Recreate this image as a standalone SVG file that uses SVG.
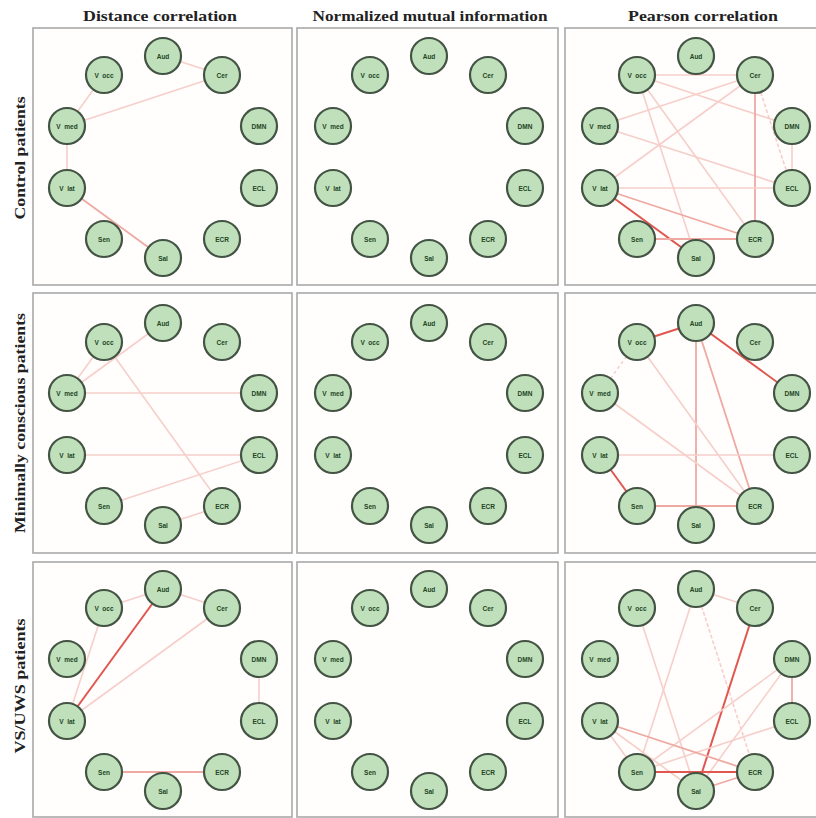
<svg xmlns="http://www.w3.org/2000/svg" width="816" height="818" viewBox="0 0 816 818">
<style>
.bg{fill:#ffffff}
.panel{fill:#fffefd;stroke:#a9a9a9;stroke-width:1.6}
.title{font-family:"Liberation Serif",serif;font-weight:bold;font-size:15px;fill:#222;text-anchor:middle}
.node circle{fill:#bfe0bb;stroke:#445444;stroke-width:2.2}
.node text{font-family:"Liberation Sans",Arial,sans-serif;font-weight:bold;font-size:6.5px;fill:#234423;text-anchor:middle;dominant-baseline:central}
.e1{stroke:#f6cfca;stroke-width:1.6;fill:none}
.e2{stroke:#eea9a2;stroke-width:1.8;fill:none}
.e3{stroke:#e0574f;stroke-width:2;fill:none}
.dash{stroke-dasharray:4 2}
</style>
<rect class="bg" x="0" y="0" width="816" height="818"/>

<text class="title" x="160" y="21" textLength="154" lengthAdjust="spacingAndGlyphs">Distance correlation</text>
<text class="title" x="430" y="21" textLength="235" lengthAdjust="spacingAndGlyphs">Normalized mutual information</text>
<text class="title" x="703" y="21" textLength="150" lengthAdjust="spacingAndGlyphs">Pearson correlation</text>
<text class="title" transform="translate(25,158) rotate(-90)" x="0" y="0" textLength="123" lengthAdjust="spacingAndGlyphs">Control patients</text>
<text class="title" transform="translate(25,423) rotate(-90)" x="0" y="0" textLength="220" lengthAdjust="spacingAndGlyphs">Minimally conscious patients</text>
<text class="title" transform="translate(25,686) rotate(-90)" x="0" y="0" textLength="135" lengthAdjust="spacingAndGlyphs">VS/UWS patients</text>

<g id="panels">
<rect class="panel" x="33" y="28" width="259" height="257"/>
<rect class="panel" x="297" y="28" width="261" height="257"/>
<rect class="panel" x="565" y="28" width="262" height="257"/>
<rect class="panel" x="33" y="293" width="259" height="260"/>
<rect class="panel" x="297" y="293" width="261" height="260"/>
<rect class="panel" x="565" y="293" width="262" height="260"/>
<rect class="panel" x="33" y="562" width="259" height="255"/>
<rect class="panel" x="297" y="562" width="261" height="255"/>
<rect class="panel" x="565" y="562" width="262" height="255"/>
</g>

<g id="connectors">
<g id="c-dist-control" transform="translate(163,157)">
<line class="e1" x1="0" y1="-101" x2="59" y2="-82"/>
<line class="e1" x1="-96" y1="-31" x2="59" y2="-82"/>
<line class="e1" x1="-59" y1="-82" x2="-96" y2="-31"/>
<line class="e1" x1="-96" y1="-31" x2="-96" y2="31"/>
<line class="e2" x1="-96" y1="31" x2="0" y2="101"/>
</g>
<g id="c-pear-control" transform="translate(696,157)">
<line class="e1" x1="-59" y1="-82" x2="59" y2="-82"/>
<line class="e1" x1="-96" y1="-31" x2="59" y2="-82"/>
<line class="e1" x1="-96" y1="31" x2="59" y2="-82"/>
<line class="e1" x1="-59" y1="-82" x2="96" y2="-31"/>
<line class="e1" x1="-59" y1="-82" x2="0" y2="101"/>
<line class="e1" x1="-59" y1="-82" x2="59" y2="82"/>
<line class="e1" x1="-96" y1="-31" x2="96" y2="31"/>
<line class="e2" x1="59" y1="-82" x2="59" y2="82"/>
<line class="e1 dash" x1="59" y1="-82" x2="96" y2="31"/>
<line class="e1" x1="96" y1="-31" x2="96" y2="31"/>
<line class="e1" x1="-96" y1="31" x2="96" y2="31"/>
<line class="e2" x1="-96" y1="31" x2="59" y2="82"/>
<line class="e3" x1="-96" y1="31" x2="0" y2="101"/>
<line class="e2" x1="-59" y1="82" x2="59" y2="82"/>
</g>
<g id="c-dist-mcs" transform="translate(163,424)">
<line class="e1" x1="-96" y1="-31" x2="0" y2="-101"/>
<line class="e1" x1="-96" y1="-31" x2="-59" y2="-82"/>
<line class="e1" x1="-96" y1="-31" x2="96" y2="-31"/>
<line class="e1" x1="-96" y1="31" x2="96" y2="31"/>
<line class="e1" x1="-59" y1="-82" x2="59" y2="82"/>
<line class="e1" x1="-59" y1="82" x2="96" y2="31"/>
<line class="e1" x1="0" y1="101" x2="59" y2="82"/>
</g>
<g id="c-pear-mcs" transform="translate(696,424)">
<line class="e3" x1="-59" y1="-82" x2="0" y2="-101"/>
<line class="e1" x1="-96" y1="-31" x2="-59" y2="-82" stroke-dasharray="3 3"/>
<line class="e3" x1="0" y1="-101" x2="96" y2="-31"/>
<line class="e2" x1="0" y1="-101" x2="59" y2="82"/>
<line class="e2" x1="0" y1="-101" x2="0" y2="101"/>
<line class="e1" x1="-59" y1="-82" x2="59" y2="82"/>
<line class="e1" x1="-96" y1="-31" x2="59" y2="82"/>
<line class="e1" x1="-96" y1="31" x2="96" y2="31"/>
<line class="e3" x1="-96" y1="31" x2="-59" y2="82"/>
<line class="e2" x1="-59" y1="82" x2="59" y2="82"/>
</g>
<g id="c-dist-vs" transform="translate(163,690)">
<line class="e1" x1="-59" y1="-82" x2="0" y2="-101"/>
<line class="e1" x1="0" y1="-101" x2="59" y2="-82"/>
<line class="e3" x1="-96" y1="31" x2="0" y2="-101"/>
<line class="e1" x1="-96" y1="31" x2="-59" y2="-82"/>
<line class="e1" x1="-96" y1="31" x2="59" y2="-82"/>
<line class="e1" x1="96" y1="-31" x2="96" y2="31"/>
<line class="e2" x1="-59" y1="82" x2="59" y2="82"/>
</g>
<g id="c-pear-vs" transform="translate(696,690)">
<line class="e1" x1="0" y1="-101" x2="59" y2="-82"/>
<line class="e1" x1="0" y1="-101" x2="-59" y2="82"/>
<line class="e1 dash" x1="0" y1="-101" x2="59" y2="82"/>
<line class="e3" x1="59" y1="-82" x2="0" y2="101"/>
<line class="e1" x1="-59" y1="-82" x2="0" y2="101"/>
<line class="e2" x1="96" y1="-31" x2="96" y2="31"/>
<line class="e1" x1="96" y1="-31" x2="-59" y2="82"/>
<line class="e1" x1="96" y1="-31" x2="0" y2="101"/>
<line class="e1" x1="96" y1="31" x2="-59" y2="82"/>
<line class="e2" x1="-96" y1="31" x2="59" y2="82"/>
<line class="e1" x1="-96" y1="31" x2="0" y2="101"/>
<line class="e1" x1="-96" y1="31" x2="-59" y2="82"/>
<line class="e3" x1="-59" y1="82" x2="59" y2="82"/>
<line class="e2" x1="0" y1="101" x2="59" y2="82"/>
</g>
</g>

<g id="panel-dist-control" transform="translate(163,157)">
<g id="dc1-Aud" class="node"><circle cx="0" cy="-101" r="18"/><text x="0" y="-101">Aud</text></g>
<g id="dc1-Cer" class="node"><circle cx="59" cy="-82" r="18"/><text x="59" y="-82">Cer</text></g>
<g id="dc1-DMN" class="node"><circle cx="96" cy="-31" r="18"/><text x="96" y="-31">DMN</text></g>
<g id="dc1-ECL" class="node"><circle cx="96" cy="31" r="18"/><text x="96" y="31">ECL</text></g>
<g id="dc1-ECR" class="node"><circle cx="59" cy="82" r="18"/><text x="59" y="82">ECR</text></g>
<g id="dc1-Sal" class="node"><circle cx="0" cy="101" r="18"/><text x="0" y="101">Sal</text></g>
<g id="dc1-Sen" class="node"><circle cx="-59" cy="82" r="18"/><text x="-59" y="82">Sen</text></g>
<g id="dc1-Vlat" class="node"><circle cx="-96" cy="31" r="18"/><text x="-96" y="31" xml:space="preserve">V  lat</text></g>
<g id="dc1-Vmed" class="node"><circle cx="-96" cy="-31" r="18"/><text x="-96" y="-31" xml:space="preserve">V  med</text></g>
<g id="dc1-Vocc" class="node"><circle cx="-59" cy="-82" r="18"/><text x="-59" y="-82" xml:space="preserve">V  occ</text></g>
</g>
<g id="panel-nmi-control" transform="translate(429,157)">
<g id="nm1-Aud" class="node"><circle cx="0" cy="-101" r="18"/><text x="0" y="-101">Aud</text></g>
<g id="nm1-Cer" class="node"><circle cx="59" cy="-82" r="18"/><text x="59" y="-82">Cer</text></g>
<g id="nm1-DMN" class="node"><circle cx="96" cy="-31" r="18"/><text x="96" y="-31">DMN</text></g>
<g id="nm1-ECL" class="node"><circle cx="96" cy="31" r="18"/><text x="96" y="31">ECL</text></g>
<g id="nm1-ECR" class="node"><circle cx="59" cy="82" r="18"/><text x="59" y="82">ECR</text></g>
<g id="nm1-Sal" class="node"><circle cx="0" cy="101" r="18"/><text x="0" y="101">Sal</text></g>
<g id="nm1-Sen" class="node"><circle cx="-59" cy="82" r="18"/><text x="-59" y="82">Sen</text></g>
<g id="nm1-Vlat" class="node"><circle cx="-96" cy="31" r="18"/><text x="-96" y="31" xml:space="preserve">V  lat</text></g>
<g id="nm1-Vmed" class="node"><circle cx="-96" cy="-31" r="18"/><text x="-96" y="-31" xml:space="preserve">V  med</text></g>
<g id="nm1-Vocc" class="node"><circle cx="-59" cy="-82" r="18"/><text x="-59" y="-82" xml:space="preserve">V  occ</text></g>
</g>
<g id="panel-pear-control" transform="translate(696,157)">
<g id="pc1-Aud" class="node"><circle cx="0" cy="-101" r="18"/><text x="0" y="-101">Aud</text></g>
<g id="pc1-Cer" class="node"><circle cx="59" cy="-82" r="18"/><text x="59" y="-82">Cer</text></g>
<g id="pc1-DMN" class="node"><circle cx="96" cy="-31" r="18"/><text x="96" y="-31">DMN</text></g>
<g id="pc1-ECL" class="node"><circle cx="96" cy="31" r="18"/><text x="96" y="31">ECL</text></g>
<g id="pc1-ECR" class="node"><circle cx="59" cy="82" r="18"/><text x="59" y="82">ECR</text></g>
<g id="pc1-Sal" class="node"><circle cx="0" cy="101" r="18"/><text x="0" y="101">Sal</text></g>
<g id="pc1-Sen" class="node"><circle cx="-59" cy="82" r="18"/><text x="-59" y="82">Sen</text></g>
<g id="pc1-Vlat" class="node"><circle cx="-96" cy="31" r="18"/><text x="-96" y="31" xml:space="preserve">V  lat</text></g>
<g id="pc1-Vmed" class="node"><circle cx="-96" cy="-31" r="18"/><text x="-96" y="-31" xml:space="preserve">V  med</text></g>
<g id="pc1-Vocc" class="node"><circle cx="-59" cy="-82" r="18"/><text x="-59" y="-82" xml:space="preserve">V  occ</text></g>
</g>
<g id="panel-dist-mcs" transform="translate(163,424)">
<g id="dc2-Aud" class="node"><circle cx="0" cy="-101" r="18"/><text x="0" y="-101">Aud</text></g>
<g id="dc2-Cer" class="node"><circle cx="59" cy="-82" r="18"/><text x="59" y="-82">Cer</text></g>
<g id="dc2-DMN" class="node"><circle cx="96" cy="-31" r="18"/><text x="96" y="-31">DMN</text></g>
<g id="dc2-ECL" class="node"><circle cx="96" cy="31" r="18"/><text x="96" y="31">ECL</text></g>
<g id="dc2-ECR" class="node"><circle cx="59" cy="82" r="18"/><text x="59" y="82">ECR</text></g>
<g id="dc2-Sal" class="node"><circle cx="0" cy="101" r="18"/><text x="0" y="101">Sal</text></g>
<g id="dc2-Sen" class="node"><circle cx="-59" cy="82" r="18"/><text x="-59" y="82">Sen</text></g>
<g id="dc2-Vlat" class="node"><circle cx="-96" cy="31" r="18"/><text x="-96" y="31" xml:space="preserve">V  lat</text></g>
<g id="dc2-Vmed" class="node"><circle cx="-96" cy="-31" r="18"/><text x="-96" y="-31" xml:space="preserve">V  med</text></g>
<g id="dc2-Vocc" class="node"><circle cx="-59" cy="-82" r="18"/><text x="-59" y="-82" xml:space="preserve">V  occ</text></g>
</g>
<g id="panel-nmi-mcs" transform="translate(429,424)">
<g id="nm2-Aud" class="node"><circle cx="0" cy="-101" r="18"/><text x="0" y="-101">Aud</text></g>
<g id="nm2-Cer" class="node"><circle cx="59" cy="-82" r="18"/><text x="59" y="-82">Cer</text></g>
<g id="nm2-DMN" class="node"><circle cx="96" cy="-31" r="18"/><text x="96" y="-31">DMN</text></g>
<g id="nm2-ECL" class="node"><circle cx="96" cy="31" r="18"/><text x="96" y="31">ECL</text></g>
<g id="nm2-ECR" class="node"><circle cx="59" cy="82" r="18"/><text x="59" y="82">ECR</text></g>
<g id="nm2-Sal" class="node"><circle cx="0" cy="101" r="18"/><text x="0" y="101">Sal</text></g>
<g id="nm2-Sen" class="node"><circle cx="-59" cy="82" r="18"/><text x="-59" y="82">Sen</text></g>
<g id="nm2-Vlat" class="node"><circle cx="-96" cy="31" r="18"/><text x="-96" y="31" xml:space="preserve">V  lat</text></g>
<g id="nm2-Vmed" class="node"><circle cx="-96" cy="-31" r="18"/><text x="-96" y="-31" xml:space="preserve">V  med</text></g>
<g id="nm2-Vocc" class="node"><circle cx="-59" cy="-82" r="18"/><text x="-59" y="-82" xml:space="preserve">V  occ</text></g>
</g>
<g id="panel-pear-mcs" transform="translate(696,424)">
<g id="pc2-Aud" class="node"><circle cx="0" cy="-101" r="18"/><text x="0" y="-101">Aud</text></g>
<g id="pc2-Cer" class="node"><circle cx="59" cy="-82" r="18"/><text x="59" y="-82">Cer</text></g>
<g id="pc2-DMN" class="node"><circle cx="96" cy="-31" r="18"/><text x="96" y="-31">DMN</text></g>
<g id="pc2-ECL" class="node"><circle cx="96" cy="31" r="18"/><text x="96" y="31">ECL</text></g>
<g id="pc2-ECR" class="node"><circle cx="59" cy="82" r="18"/><text x="59" y="82">ECR</text></g>
<g id="pc2-Sal" class="node"><circle cx="0" cy="101" r="18"/><text x="0" y="101">Sal</text></g>
<g id="pc2-Sen" class="node"><circle cx="-59" cy="82" r="18"/><text x="-59" y="82">Sen</text></g>
<g id="pc2-Vlat" class="node"><circle cx="-96" cy="31" r="18"/><text x="-96" y="31" xml:space="preserve">V  lat</text></g>
<g id="pc2-Vmed" class="node"><circle cx="-96" cy="-31" r="18"/><text x="-96" y="-31" xml:space="preserve">V  med</text></g>
<g id="pc2-Vocc" class="node"><circle cx="-59" cy="-82" r="18"/><text x="-59" y="-82" xml:space="preserve">V  occ</text></g>
</g>
<g id="panel-dist-vs" transform="translate(163,690)">
<g id="dc3-Aud" class="node"><circle cx="0" cy="-101" r="18"/><text x="0" y="-101">Aud</text></g>
<g id="dc3-Cer" class="node"><circle cx="59" cy="-82" r="18"/><text x="59" y="-82">Cer</text></g>
<g id="dc3-DMN" class="node"><circle cx="96" cy="-31" r="18"/><text x="96" y="-31">DMN</text></g>
<g id="dc3-ECL" class="node"><circle cx="96" cy="31" r="18"/><text x="96" y="31">ECL</text></g>
<g id="dc3-ECR" class="node"><circle cx="59" cy="82" r="18"/><text x="59" y="82">ECR</text></g>
<g id="dc3-Sal" class="node"><circle cx="0" cy="101" r="18"/><text x="0" y="101">Sal</text></g>
<g id="dc3-Sen" class="node"><circle cx="-59" cy="82" r="18"/><text x="-59" y="82">Sen</text></g>
<g id="dc3-Vlat" class="node"><circle cx="-96" cy="31" r="18"/><text x="-96" y="31" xml:space="preserve">V  lat</text></g>
<g id="dc3-Vmed" class="node"><circle cx="-96" cy="-31" r="18"/><text x="-96" y="-31" xml:space="preserve">V  med</text></g>
<g id="dc3-Vocc" class="node"><circle cx="-59" cy="-82" r="18"/><text x="-59" y="-82" xml:space="preserve">V  occ</text></g>
</g>
<g id="panel-nmi-vs" transform="translate(429,690)">
<g id="nm3-Aud" class="node"><circle cx="0" cy="-101" r="18"/><text x="0" y="-101">Aud</text></g>
<g id="nm3-Cer" class="node"><circle cx="59" cy="-82" r="18"/><text x="59" y="-82">Cer</text></g>
<g id="nm3-DMN" class="node"><circle cx="96" cy="-31" r="18"/><text x="96" y="-31">DMN</text></g>
<g id="nm3-ECL" class="node"><circle cx="96" cy="31" r="18"/><text x="96" y="31">ECL</text></g>
<g id="nm3-ECR" class="node"><circle cx="59" cy="82" r="18"/><text x="59" y="82">ECR</text></g>
<g id="nm3-Sal" class="node"><circle cx="0" cy="101" r="18"/><text x="0" y="101">Sal</text></g>
<g id="nm3-Sen" class="node"><circle cx="-59" cy="82" r="18"/><text x="-59" y="82">Sen</text></g>
<g id="nm3-Vlat" class="node"><circle cx="-96" cy="31" r="18"/><text x="-96" y="31" xml:space="preserve">V  lat</text></g>
<g id="nm3-Vmed" class="node"><circle cx="-96" cy="-31" r="18"/><text x="-96" y="-31" xml:space="preserve">V  med</text></g>
<g id="nm3-Vocc" class="node"><circle cx="-59" cy="-82" r="18"/><text x="-59" y="-82" xml:space="preserve">V  occ</text></g>
</g>
<g id="panel-pear-vs" transform="translate(696,690)">
<g id="pc3-Aud" class="node"><circle cx="0" cy="-101" r="18"/><text x="0" y="-101">Aud</text></g>
<g id="pc3-Cer" class="node"><circle cx="59" cy="-82" r="18"/><text x="59" y="-82">Cer</text></g>
<g id="pc3-DMN" class="node"><circle cx="96" cy="-31" r="18"/><text x="96" y="-31">DMN</text></g>
<g id="pc3-ECL" class="node"><circle cx="96" cy="31" r="18"/><text x="96" y="31">ECL</text></g>
<g id="pc3-ECR" class="node"><circle cx="59" cy="82" r="18"/><text x="59" y="82">ECR</text></g>
<g id="pc3-Sal" class="node"><circle cx="0" cy="101" r="18"/><text x="0" y="101">Sal</text></g>
<g id="pc3-Sen" class="node"><circle cx="-59" cy="82" r="18"/><text x="-59" y="82">Sen</text></g>
<g id="pc3-Vlat" class="node"><circle cx="-96" cy="31" r="18"/><text x="-96" y="31" xml:space="preserve">V  lat</text></g>
<g id="pc3-Vmed" class="node"><circle cx="-96" cy="-31" r="18"/><text x="-96" y="-31" xml:space="preserve">V  med</text></g>
<g id="pc3-Vocc" class="node"><circle cx="-59" cy="-82" r="18"/><text x="-59" y="-82" xml:space="preserve">V  occ</text></g>
</g>
</svg>
